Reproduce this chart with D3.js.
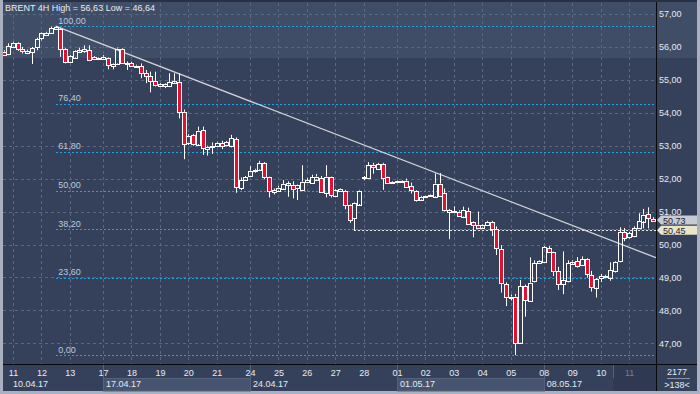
<!DOCTYPE html>
<html>
<head>
<meta charset="utf-8">
<script src="https://cdn.jsdelivr.net/npm/d3@7"></script>
<style>
  body { margin: 0; background: #35415b; }
  svg { display: block; }
  text { font-family: "Liberation Sans", Arial, sans-serif; font-size: 9px; }
</style>
</head>
<body>
<div id="container"></div>
<script>
// BRENT 4H candles
const open = [55.86,55.78,56.01,56.13,55.93,55.82,55.83,55.99,56.25,56.36,56.43,56.55,56.55,55.93,55.55,55.68,55.86,55.88,55.91,55.68,
  55.62,55.64,55.65,55.42,55.50,55.93,55.48,55.50,55.40,55.42,55.20,55.12,54.97,54.82,54.88,54.80,54.92,54.94,54.03,53.09,
  53.33,53.05,53.48,52.90,52.97,53.00,53.07,53.00,53.00,53.20,51.71,51.96,52.09,52.24,52.28,52.47,52.04,51.58,51.64,51.70,
  51.82,51.81,51.72,51.66,51.90,51.86,51.98,52.01,51.57,52.04,51.47,51.62,51.63,51.20,50.78,51.23,52.00,52.01,52.42,52.29,
  52.45,52.04,51.86,51.88,51.89,51.94,51.78,51.63,51.37,51.44,51.47,51.47,51.85,51.56,51.05,50.98,51.00,50.85,51.02,50.67,
  50.60,50.52,50.59,50.69,50.46,49.85,48.80,48.38,48.42,47.02,48.74,48.29,48.87,49.44,49.46,49.88,49.76,49.20,48.79,48.89,
  49.43,49.50,49.38,49.56,49.07,48.69,48.97,49.02,48.99,49.20,49.48,50.37,50.21,50.24,50.49,50.71,50.92,50.78];
const high = [55.90,56.11,56.16,56.15,56.00,55.92,56.00,56.28,56.44,56.46,56.62,56.63,56.58,55.96,55.75,55.90,55.98,56.05,56.05,55.72,
  55.68,55.75,55.68,55.50,55.98,55.96,55.56,55.55,55.46,55.50,55.30,55.25,55.25,54.90,54.90,55.20,55.20,55.20,54.10,53.35,
  53.36,53.58,53.58,53.00,53.10,53.12,53.15,53.14,53.33,53.25,52.04,52.08,52.38,52.30,52.54,52.50,52.06,51.70,51.78,51.96,
  51.92,51.92,51.82,52.41,52.02,52.12,52.14,52.08,52.41,52.06,51.68,51.70,51.66,51.22,51.28,51.66,52.08,52.50,52.48,52.48,
  52.48,52.06,51.92,51.94,51.95,52.00,51.88,51.65,51.48,51.48,51.52,52.16,52.17,51.70,51.08,51.16,51.04,51.15,51.12,50.70,
  51.00,50.62,50.72,50.72,50.55,49.98,48.85,48.48,48.50,48.92,48.78,49.61,49.52,49.52,49.95,49.95,49.78,49.32,49.79,49.52,
  49.52,49.62,49.64,49.58,49.20,48.98,49.10,49.08,49.46,49.50,50.52,50.50,50.38,50.55,50.95,51.08,51.13,50.83];
const low = [55.75,55.75,55.98,55.88,55.80,55.78,55.48,55.90,56.20,56.33,56.40,56.52,55.70,55.50,55.52,55.65,55.84,55.82,55.58,55.60,
  55.60,55.62,55.32,55.32,55.45,55.48,55.30,55.40,55.38,55.05,54.90,54.62,54.80,54.78,54.75,54.78,54.90,53.83,52.59,53.02,
  53.00,53.00,52.72,52.70,52.75,52.98,52.90,52.98,52.95,51.57,51.65,51.94,52.06,52.18,52.26,51.98,51.43,51.52,51.62,51.68,
  51.45,51.40,51.35,51.62,51.88,51.84,51.96,51.58,51.43,51.43,51.45,51.60,51.07,50.66,50.44,51.20,51.95,51.98,52.15,52.26,
  51.66,51.84,51.84,51.86,51.87,51.74,51.55,51.30,51.35,51.42,51.45,51.45,51.47,51.00,50.16,50.96,50.84,50.80,50.60,50.22,
  50.48,50.50,50.57,50.26,49.68,48.54,48.13,48.30,46.64,47.00,47.81,48.27,48.85,49.42,49.44,49.74,49.04,48.62,48.49,48.85,
  49.41,49.30,49.36,49.00,48.57,48.39,48.86,49.00,48.90,49.15,49.46,50.10,50.18,50.22,50.47,50.49,50.49,50.70];
const close = [55.78,56.03,56.13,55.96,55.88,55.88,55.96,56.23,56.41,56.43,56.57,56.60,55.93,55.55,55.72,55.88,55.91,55.93,55.62,55.62,
  55.65,55.70,55.45,55.48,55.95,55.50,55.50,55.42,55.43,55.22,55.12,54.97,54.84,54.88,54.81,54.93,54.97,54.03,53.07,53.30,
  53.07,53.46,52.92,52.97,53.00,53.09,52.99,53.10,53.23,51.74,51.96,52.04,52.24,52.27,52.48,52.06,51.63,51.65,51.73,51.84,
  51.87,51.68,51.80,51.91,51.96,52.04,52.06,51.60,52.06,51.50,51.66,51.68,51.20,50.74,51.25,51.64,52.04,52.41,52.35,52.45,
  52.04,51.86,51.90,51.92,51.93,51.76,51.67,51.37,51.45,51.46,51.50,51.85,51.50,51.03,50.98,51.02,50.87,51.05,50.62,50.57,
  50.52,50.60,50.69,50.49,49.88,48.82,48.40,48.42,47.02,48.74,48.33,48.84,49.43,49.50,49.92,49.76,49.17,48.80,48.92,49.43,
  49.48,49.36,49.56,49.09,48.72,48.95,49.04,49.05,49.23,49.48,50.37,50.19,50.34,50.49,50.71,50.91,50.80,50.73];

// axis labels
const priceTicks = [47, 48, 49, 50, 51, 52, 53, 54, 55, 56, 57];
const dayLabels = ["11","12","13","17","18","19","20","21","24","25","26","27","28","01","02","03","04","05","08","09","10","11"];
const dayStarts = [2,8,14,21,27,33,39,45,52,58,64,70,76,83,89,95,101,107,114,120,126,132];
const weekLabels = ["10.04.17","17.04.17","24.04.17","01.05.17","08.05.17"];
const weekStarts = [2,21,52,83,114];

// fibonacci retracement
const fibLevels = [100, 76.4, 61.8, 50, 38.2, 23.6, 0];
const fibHigh = 56.63;
const fibLow = 46.64;
const fibStartBar = 11;

// drawn objects
const trendFrom = [11, 56.63];
const trendTo = [137.66, 49.6];
const levelLineBar = 74;
const levelLinePrice = 50.45;
const lastPrice = 50.73;

const width = 700;
const height = 394;
const plotLeft = 3, plotRight = 656, plotTop = 3, plotBottom = 364;

const x = d3.scaleLinear().domain([0, 137]).range([3.5, 3.5 + 137 * 4.74]);
const y = d3.scaleLinear().domain([47, 57]).range([343.3, 14]);
const fmt = (v) => d3.format(".2f")(v).replace(".", ",");
const px = (v) => Math.round(v) + 0.5;

const svg = d3.select("#container").append("svg")
  .attr("width", width).attr("height", height);

// backgrounds
svg.append("rect").attr("width", width).attr("height", height).attr("fill", "#35415b");
svg.append("rect").attr("x", 3).attr("y", 2).attr("width", 694).attr("height", 56).attr("fill", "#404d67");
svg.append("rect").attr("x", 0).attr("y", 0).attr("width", width).attr("height", 2).attr("fill", "#283144");
svg.append("rect").attr("x", 0).attr("y", 0).attr("width", 3).attr("height", height).attr("fill", "#a9b1bf");
svg.append("rect").attr("x", 697).attr("y", 0).attr("width", 3).attr("height", height).attr("fill", "#a9b1bf");
svg.append("rect").attr("x", 0).attr("y", 391).attr("width", width).attr("height", 3).attr("fill", "#a9b1bf");

svg.append("defs").append("clipPath").attr("id", "plot")
  .append("rect").attr("x", plotLeft).attr("y", plotTop)
  .attr("width", plotRight - plotLeft).attr("height", plotBottom - plotTop);

const plot = svg.append("g").attr("clip-path", "url(#plot)");

// grid
plot.selectAll(".hgrid").data(priceTicks).enter().append("line")
  .attr("x1", plotLeft).attr("x2", plotRight)
  .attr("y1", (d) => px(y(d))).attr("y2", (d) => px(y(d)))
  .attr("stroke", "#5a6783").attr("stroke-dasharray", "3,3");
plot.selectAll(".vgrid").data(dayStarts).enter().append("line")
  .attr("x1", (d) => px(x(d))).attr("x2", (d) => px(x(d)))
  .attr("y1", plotTop).attr("y2", plotBottom)
  .attr("stroke", "#5a6783").attr("stroke-dasharray", "3,3");

// fib levels
const fib = plot.append("g");
fib.selectAll("line").data(fibLevels).enter().append("line")
  .attr("x1", Math.round(x(fibStartBar))).attr("x2", plotRight)
  .attr("y1", (d) => px(y(fibLow + (fibHigh - fibLow) * d / 100)))
  .attr("y2", (d) => px(y(fibLow + (fibHigh - fibLow) * d / 100)))
  .attr("stroke", "#1ea3e0").attr("stroke-dasharray", "2,2");
fib.selectAll("text").data(fibLevels).enter().append("text")
  .attr("x", x(fibStartBar) + 2.5)
  .attr("y", (d) => y(fibLow + (fibHigh - fibLow) * d / 100) - 2.5)
  .attr("fill", "#bccadf")
  .text((d) => fmt(d));

// horizontal level line
plot.append("line")
  .attr("x1", Math.round(x(levelLineBar))).attr("x2", plotRight)
  .attr("y1", px(y(levelLinePrice))).attr("y2", px(y(levelLinePrice)))
  .attr("stroke", "#e8ecf0").attr("stroke-dasharray", "2,2");

// trend line
plot.append("line")
  .attr("x1", x(trendFrom[0])).attr("y1", y(trendFrom[1]))
  .attr("x2", x(trendTo[0])).attr("y2", y(trendTo[1]))
  .attr("stroke", "#d2d4d8").attr("stroke-width", 1.3);

// candles
const bars = d3.range(open.length);
const candles = plot.selectAll(".candle").data(bars).enter().append("g");
candles.append("line")
  .attr("x1", (i) => px(x(i))).attr("x2", (i) => px(x(i)))
  .attr("y1", (i) => y(high[i])).attr("y2", (i) => y(Math.max(open[i], close[i])))
  .attr("stroke", "#ffffff");
candles.append("line")
  .attr("x1", (i) => px(x(i))).attr("x2", (i) => px(x(i)))
  .attr("y1", (i) => y(Math.min(open[i], close[i]))).attr("y2", (i) => y(low[i]))
  .attr("stroke", "#ffffff");
candles.append("rect")
  .attr("x", (i) => Math.round(x(i)) - 1.5)
  .attr("width", 4)
  .attr("y", (i) => Math.round(y(Math.max(open[i], close[i]))) + 0.5)
  .attr("height", (i) => Math.max(1, Math.round(y(Math.min(open[i], close[i])) - y(Math.max(open[i], close[i])))))
  .attr("fill", (i) => (close[i] < open[i] ? "#e3102f" : "none"))
  .attr("stroke", "#ffffff");

// separators
svg.append("line").attr("x1", 656.5).attr("x2", 656.5).attr("y1", 2).attr("y2", 391).attr("stroke", "#07090d");
svg.append("line").attr("x1", 3).attr("x2", 697).attr("y1", 364.5).attr("y2", 364.5).attr("stroke", "#07090d");

// bottom panel: week boxes
const weekRange = weekStarts.map((d, i) => [d, i < weekStarts.length - 1 ? weekStarts[i + 1] : null]);
svg.selectAll(".weekbox").data(weekRange.filter((d, i) => i % 2 === 1)).enter().append("rect")
  .attr("x", (d) => px(x(d[0]))).attr("y", 378.5)
  .attr("width", (d) => Math.round(x(d[1]) - x(d[0]))).attr("height", 12.5)
  .attr("fill", "#47546f").attr("stroke", "#55627d");
svg.selectAll(".weeksep").data(weekStarts.slice(1)).enter().append("line")
  .attr("x1", (d) => px(x(d))).attr("x2", (d) => px(x(d)))
  .attr("y1", 365).attr("y2", 391).attr("stroke", "#55627d");
svg.append("rect").attr("x", 613.5).attr("y", 365).attr("width", 42.5).attr("height", 26)
  .attr("fill", "#2f3a52");
svg.append("line").attr("x1", 613.5).attr("x2", 613.5).attr("y1", 365).attr("y2", 378)
  .attr("stroke", "#55627d");

// x axis day labels
const xAxis = d3.axisBottom(x).tickValues(dayStarts)
  .tickFormat((d, i) => dayLabels[i]).tickSize(0).tickPadding(0);
const xg = svg.append("g").attr("transform", "translate(0,369.5)").call(xAxis);
xg.select(".domain").remove();
xg.selectAll("text")
  .attr("fill", (d, i) => (i === dayStarts.length - 1 ? "#717e96" : "#e6ebf2"))
  .attr("font-size", 9).attr("font-family", "Liberation Sans, Arial, sans-serif");

svg.selectAll(".weeklabel").data(weekStarts).enter().append("text")
  .attr("x", (d, i) => (i === 0 ? x(d) : x(d) + 3))
  .attr("y", 387)
  .attr("fill", "#e6ebf2")
  .text((d, i) => weekLabels[i]);

// y axis
const yAxis = d3.axisRight(y).tickValues(priceTicks).tickFormat(fmt).tickSize(0).tickPadding(3);
const yg = svg.append("g").attr("transform", "translate(656,0)").call(yAxis);
yg.select(".domain").remove();
yg.selectAll("text").attr("fill", "#e6ebf2")
  .attr("font-size", 9).attr("font-family", "Liberation Sans, Arial, sans-serif");

// price tags
const tags = [
  { price: lastPrice, cy: y(lastPrice) - 0.5, fill: "#c6cad1" },
  { price: levelLinePrice, cy: y(levelLinePrice) + 0.5, fill: "#e8e5c8" },
];
const tag = svg.selectAll(".tag").data(tags).enter().append("g");
tag.append("path")
  .attr("d", (d) => `M657,${d.cy} L661,${d.cy - 4.5} L697,${d.cy - 4.5} L697,${d.cy + 4.5} L661,${d.cy + 4.5} Z`)
  .attr("fill", (d) => d.fill);
tag.append("text")
  .attr("x", 663).attr("y", (d) => d.cy + 3.8)
  .attr("fill", "#1c2230")
  .text((d) => fmt(d.price));

// bottom-right counters
svg.append("text").attr("x", 677).attr("y", 375).attr("text-anchor", "middle")
  .attr("fill", "#e6ebf2").text("2177");
svg.append("line").attr("x1", 667).attr("x2", 690).attr("y1", 378.5).attr("y2", 378.5)
  .attr("stroke", "#8894aa");
svg.append("text").attr("x", 677).attr("y", 388).attr("text-anchor", "middle")
  .attr("fill", "#e6ebf2").text(">138<");

// title
svg.append("text").attr("x", 5).attr("y", 11).attr("fill", "#e8ecf2")
  .text("BRENT 4H High = " + fmt(fibHigh) + " Low = " + fmt(fibLow));
</script>
</body>
</html>
